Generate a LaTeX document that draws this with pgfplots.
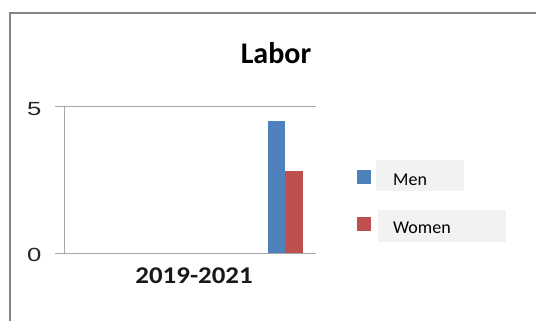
\documentclass[border=0pt]{standalone}
\usepackage{pgfplots}
\pgfplotsset{compat=1.18}
\usepackage{fontspec}
\setmainfont[Numbers=Lining]{Carlito}
\newfontfamily\catfont[FakeStretch=1.12,Numbers=Lining]{Carlito}
\newfontfamily\tickfont{Liberation Sans}
\definecolor{menblue}{HTML}{4F81BD}
\definecolor{womenred}{HTML}{C0504D}
\definecolor{axgray}{HTML}{A6A6A6}
\definecolor{bordergray}{HTML}{868686}
\definecolor{legbg}{HTML}{F2F2F2}
\begin{document}
\begin{tikzpicture}[x=1pt,y=1pt]
\useasboundingbox (0,0) rectangle (536,321);
\fill[white] (0,0) rectangle (536,321);
\draw[bordergray, line width=2pt] (10,-5) -- (10,308) -- (541,308);
\fill[legbg] (376,130.3) rectangle (464,161);
\fill[legbg] (378,79) rectangle (505.7,111);
\node[font=\fontsize{30}{36}\selectfont\bfseries, anchor=base, inner sep=0pt] at (276,257.7) {Labor};
\begin{axis}[
  at={(64.5pt,68pt)}, anchor=south west,
  scale only axis, width=251.2pt, height=146.3pt,
  xmin=0, xmax=1, ymin=0, ymax=5,
  axis x line*=bottom, axis y line*=left,
  axis line style={axgray, line width=0.8pt, -},
  ytick={0,5},
  yticklabels={\scalebox{1.35}[1]{0},\scalebox{1.35}[1]{5}},
  xtick={0.5}, xticklabels={2019-2021},
  tick align=outside,
  major tick length=9.5pt,
  y tick style={axgray, line width=0.8pt},
  x tick style={draw=none},
  ymajorgrids, grid style={axgray, line width=0.8pt},
  yticklabel style={font=\tickfont\fontsize{19}{23}\selectfont, text=black!85, xshift=-10pt, yshift=-2pt},
  xticklabel style={font=\catfont\bfseries\fontsize{24}{28}\selectfont, text=black!90, anchor=base, yshift=-21pt, xshift=4pt},
  legend cell align=left,
  legend style={draw=none, fill=none, inner sep=0pt,
    at={(1.1644,0.5721)}, anchor=north west,
    font=\fontsize{18}{22}\selectfont,
    nodes={inner sep=0pt},
    column sep=22pt, row sep=30pt},
  legend image code/.code={\fill[#1] (0pt,-3pt) rectangle (14pt,11pt);},
  clip=false,
]
\addplot[ybar, bar width=17.5pt, bar shift=-8.75pt, fill=menblue, draw=none] coordinates {(0.878,4.5)};
\addplot[ybar, bar width=17.5pt, bar shift=8.75pt, fill=womenred, draw=none] coordinates {(0.878,2.8)};
\legend{Men, Women}
\end{axis}
\end{tikzpicture}
\end{document}
